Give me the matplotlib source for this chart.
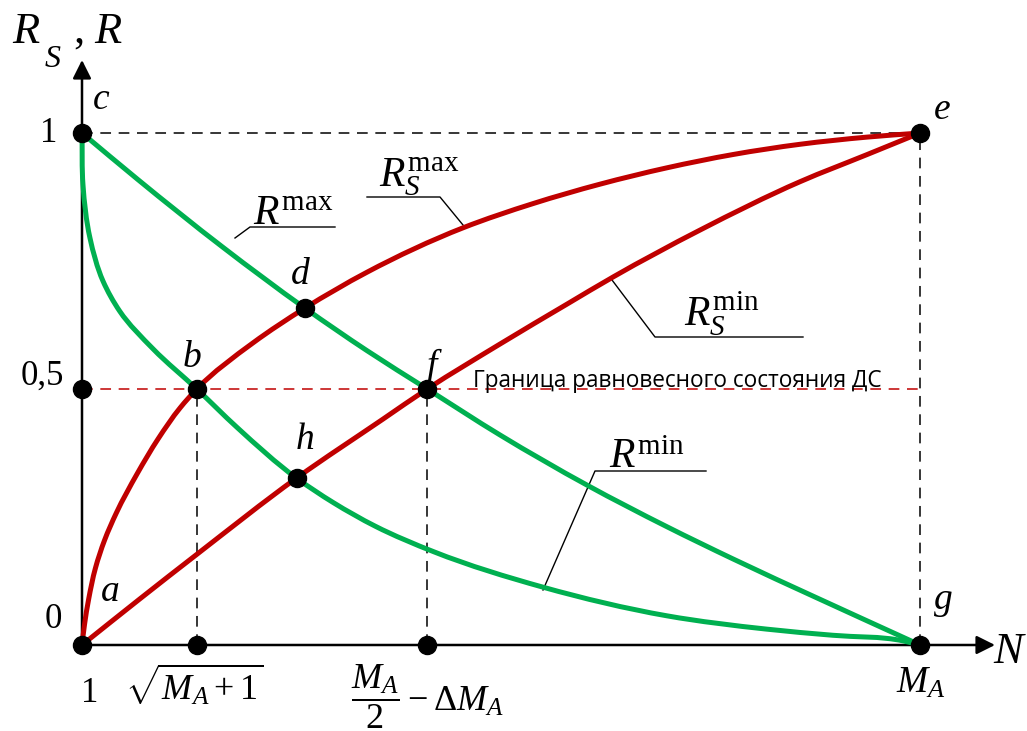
import numpy as np
import matplotlib
matplotlib.use("Agg")
import matplotlib.pyplot as plt
from matplotlib.path import Path
from matplotlib.patches import PathPatch

plt.rcParams['mathtext.fontset'] = 'custom'
plt.rcParams['mathtext.rm'] = 'Liberation Serif'
plt.rcParams['mathtext.it'] = 'Liberation Serif:italic'
plt.rcParams['font.family'] = 'Liberation Serif'

# N is normalised so that 1 -> 0 and M_A -> 1; R values run 0..1
rs_max_x = [0, 0.003, 0.008, 0.016, 0.027, 0.041, 0.066, 0.091, 0.117, 0.137,
            0.204, 0.266, 0.340, 0.455, 0.538, 0.618, 0.698, 0.777, 0.857, 0.937, 1.0]
rs_max_y = [0, 0.040, 0.090, 0.150, 0.205, 0.258, 0.335, 0.403, 0.463, 0.500,
            0.590, 0.658, 0.728, 0.815, 0.862, 0.900, 0.932, 0.958, 0.978, 0.992, 1.0]

rs_min_x = [0, 0.069, 0.137, 0.256, 0.359, 0.412, 0.499, 0.579, 0.634, 0.737, 0.857, 0.937, 1.0]
rs_min_y = [0, 0.090, 0.177, 0.326, 0.441, 0.500, 0.588, 0.666, 0.719, 0.810, 0.905, 0.958, 1.0]

r_max_x = [0, 0.066, 0.168, 0.266, 0.340, 0.412, 0.499, 0.603, 0.698, 0.777, 0.877, 0.980, 1.0]
r_max_y = [1.0, 0.910, 0.777, 0.658, 0.575, 0.500, 0.410, 0.312, 0.231, 0.168, 0.092, 0.015, 0]

r_min_x = [0, 0.0012, 0.0095, 0.025, 0.045, 0.085, 0.137, 0.185, 0.256, 0.300,
           0.350, 0.420, 0.550, 0.698, 0.817, 0.896, 0.980, 1.0]
r_min_y = [1.0, 0.898, 0.795, 0.711, 0.652, 0.578, 0.500, 0.425, 0.326, 0.278,
           0.232, 0.182, 0.113, 0.057, 0.031, 0.019, 0.008, 0]

# characteristic points
pt_names = ['a', 'b', 'c', 'd', 'e', 'f', 'g', 'h']
pt_x = [0, 0.137, 0, 0.266, 1.0, 0.412, 1.0, 0.256]
pt_y = [0, 0.500, 1.0, 0.658, 1.0, 0.500, 0, 0.326]

RED = '#c00000'
GREEN = '#00b050'
SX, SY = 838, 512   # pixels per data unit


def smooth_path(xs, ys):
    """Cubic Bezier path passing through the given points."""
    P = np.column_stack([xs, ys]).astype(float)
    d = np.hypot(np.diff(P[:, 0]) * SX, np.diff(P[:, 1]) * SY)
    t = np.concatenate([[0], np.cumsum(d)])
    T = np.zeros_like(P)
    for i in range(1, len(P) - 1):
        h0, h1 = t[i] - t[i - 1], t[i + 1] - t[i]
        T[i] = ((P[i] - P[i - 1]) / h0 * h1 + (P[i + 1] - P[i]) / h1 * h0) / (h0 + h1)
    T[0] = (P[1] - P[0]) / d[0]
    T[-1] = (P[-1] - P[-2]) / d[-1]
    verts, codes = [P[0]], [Path.MOVETO]
    for i in range(len(P) - 1):
        h = d[i]
        verts += [P[i] + T[i] * h / 3, P[i + 1] - T[i + 1] * h / 3, P[i + 1]]
        codes += [Path.CURVE4] * 3
    return Path(verts, codes)


fig = plt.figure(figsize=(10.27, 7.31), dpi=100)
ax = fig.add_axes([0, 0, 1, 1])
ax.set_xlim(-82 / SX, (1027 - 82) / SX)
ax.set_ylim((645 - 731) / SY, 645 / SY)
ax.axis('off')

# guide lines
dash = dict(color='black', lw=1.1, ls=(0, (7, 5)))
ax.plot([0, 1], [1, 1], **dash)
ax.plot([1, 1], [0, 1], **dash)
ax.plot([pt_x[1], pt_x[1]], [0, 0.5], **dash)
ax.plot([pt_x[5], pt_x[5]], [0, 0.5], **dash)
ax.plot([0, 1], [0.5, 0.5], color=RED, lw=1.1, ls=(0, (7, 5)))

# axes with arrows
ax.annotate('', xy=(913 / SX, 0), xytext=(0, 0),
            arrowprops=dict(arrowstyle='-|>', color='black', lw=1.8,
                            mutation_scale=28, shrinkA=0, shrinkB=0))
ax.annotate('', xy=(0, 585 / SY), xytext=(0, 0),
            arrowprops=dict(arrowstyle='-|>', color='black', lw=1.8,
                            mutation_scale=28, shrinkA=0, shrinkB=0))

# curves
for xs, ys, col in [(r_max_x, r_max_y, GREEN), (r_min_x, r_min_y, GREEN),
                    (rs_max_x, rs_max_y, RED), (rs_min_x, rs_min_y, RED)]:
    ax.add_patch(PathPatch(smooth_path(xs, ys), fill=False, edgecolor=col,
                           lw=3.6, capstyle='round', zorder=3))

# black dots
dot_x = pt_x + [0, pt_x[1], pt_x[5]]
dot_y = pt_y + [0.5, 0, 0]
ax.plot(dot_x, dot_y, 'o', color='black', ms=13, zorder=5)


def px(x, y):
    return (x - 82) / SX, (645 - y) / SY


# point letters
letter_pos = {'a': (110, 592), 'b': (192, 358), 'c': (101, 100), 'd': (300, 275),
              'e': (942, 110), 'f': (434, 366), 'g': (943, 602), 'h': (305, 440)}
for name in pt_names:
    ax.text(*px(*letter_pos[name]), rf'${name}$', fontsize=27,
            ha='center', va='center')

# tick labels
ax.text(*px(49, 133), '1', fontsize=25, ha='center', va='center')
ax.text(*px(42, 376), '0,5', fontsize=25, ha='center', va='center')
ax.text(*px(53, 620), '0', fontsize=25, ha='center', va='center')
ax.text(*px(90, 693), '1', fontsize=25, ha='center', va='center')
ax.text(*px(194, 685), r'$\sqrt{M_A+1}$', fontsize=26, ha='center', va='center')
ax.text(*px(427, 697), r'$\dfrac{M_A}{2}-\Delta M_A$', fontsize=26, ha='center', va='center')
ax.text(*px(921, 683), r'$M_A$', fontsize=27, ha='center', va='center')

# axis titles
ax.text(*px(1010, 652), r'$N$', fontsize=32, ha='center', va='center')
ax.text(*px(12, 43), r'$R$', fontsize=32, ha='left', va='baseline')
ax.text(*px(44, 67), r'$S$', fontsize=23, ha='left', va='baseline')
ax.text(*px(73, 43), ',', fontsize=32, ha='left', va='baseline')
ax.text(*px(94, 43), r'$R$', fontsize=32, ha='left', va='baseline')

# curve labels with leaders
leader = dict(color='black', lw=1.0)
ax.plot(*zip(px(235, 238), px(250, 227), px(335, 227)), **leader)
ax.text(*px(253, 224), r'$R^{\mathrm{max}}$', fontsize=30, ha='left', va='baseline')

ax.plot(*zip(px(463, 225), px(440, 197), px(367, 197)), **leader)
ax.text(*px(379, 187), r'$R_S^{\mathrm{max}}$', fontsize=30, ha='left', va='baseline')

ax.plot(*zip(px(612, 280), px(655, 337), px(803, 337)), **leader)
ax.text(*px(684, 327), r'$R_S^{\mathrm{min}}$', fontsize=30, ha='left', va='baseline')

ax.plot(*zip(px(543, 590), px(595, 471), px(706, 471)), **leader)
ax.text(*px(609, 468), r'$R^{\mathrm{min}}$', fontsize=30, ha='left', va='baseline')

# equilibrium boundary caption
ax.text(*px(473, 387), 'Граница равновесного состояния ДС', fontsize=16.3,
        family=['Open Sans', 'DejaVu Sans'], ha='left', va='baseline')

fig.savefig('out.png', dpi=100)
